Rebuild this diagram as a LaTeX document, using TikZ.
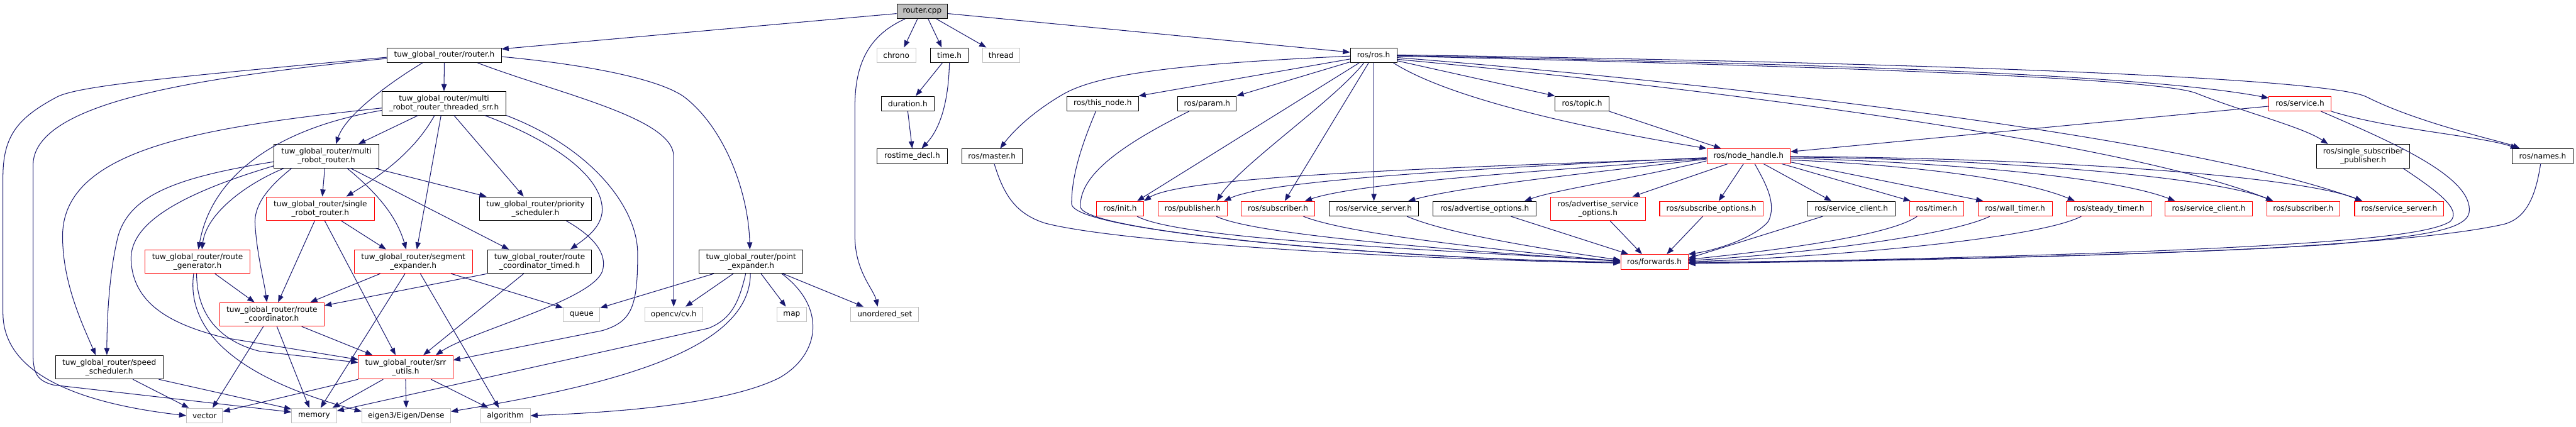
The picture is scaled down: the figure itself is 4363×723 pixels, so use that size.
\documentclass[tikz,border=0pt]{standalone}
\usepackage{fontspec}
\newfontfamily\dejavu{DejaVu Sans}
\usetikzlibrary{arrows.meta}
\definecolor{edgeblue}{HTML}{191970}
\definecolor{grayb}{HTML}{BFBFBF}
\begin{document}
\begin{tikzpicture}[x=1pt,y=-1pt,
  nd/.style={draw=black, line width=1.1pt, inner sep=0pt, align=center, text=black,
             font=\dejavu\fontsize{12.9pt}{15pt}\selectfont},
  gn/.style={nd, draw=grayb},
  rn/.style={nd, draw=red},
  wd/.style={minimum width=#1pt},
  ha/.style={minimum height=25pt},
  hb/.style={minimum height=40pt},
  e/.style={draw=edgeblue, line width=1.1pt, -{Triangle[length=12pt,width=9pt]}}]
\fill[white] (0,0) rectangle (4363,723);
\useasboundingbox (0,0) rectangle (4363,723);

% ---------------- nodes ----------------
\node[nd,fill=grayb,wd=86,ha] (cpp) at (1562,19) {router.cpp};
\node[nd,wd=193,ha] (routerh) at (752.5,93.5) {tuw\_global\_router/router.h};
\node[gn,wd=66,ha] (chrono) at (1518,93.5) {chrono};
\node[nd,wd=64,ha] (timeh) at (1608,93.5) {time.h};
\node[gn,wd=63,ha] (thread) at (1695.5,93.5) {thread};
\node[nd,wd=79,ha] (rosh) at (2326.5,93.5) {ros/ros.h};

\node[nd,wd=210,hb] (threaded) at (752,175) {tuw\_global\_router/multi\\\_robot\_router\_threaded\_srr.h};
\node[nd,wd=89,ha] (duration) at (1537.5,175.5) {duration.h};
\node[nd,wd=121,ha] (thisnode) at (1867.5,175.5) {ros/this\_node.h};
\node[nd,wd=99,ha] (param) at (2044.5,175.5) {ros/param.h};
\node[nd,wd=91,ha] (topic) at (2679.5,175.5) {ros/topic.h};
\node[rn,wd=105,ha] (service) at (3895.5,175.5) {ros/service.h};

\node[nd,wd=178,hb] (multi) at (553,264.5) {tuw\_global\_router/multi\\\_robot\_router.h};
\node[nd,wd=120,ha] (rostimedecl) at (1545,264.5) {rostime\_decl.h};
\node[nd,wd=102,ha] (master) at (1680,264.5) {ros/master.h};
\node[rn,wd=141,ha] (nodehandle) at (2961.5,264.5) {ros/node\_handle.h};
\node[nd,wd=157,hb] (singlesub) at (4002.5,264.5) {ros/single\_subscriber\\\_publisher.h};
\node[nd,wd=103,ha] (names) at (4306.5,264.5) {ros/names.h};

\node[rn,wd=183,hb] (single) at (542.5,353.5) {tuw\_global\_router/single\\\_robot\_router.h};
\node[nd,wd=190,hb] (priority) at (907,353.5) {tuw\_global\_router/priority\\\_scheduler.h};
\node[rn,wd=80,ha] (init) at (1897,353.5) {ros/init.h};
\node[rn,wd=118,ha] (publisher) at (2020,353.5) {ros/publisher.h};
\node[rn,wd=125,ha] (subscriber1) at (2164.5,353.5) {ros/subscriber.h};
\node[nd,wd=152,ha] (servserver1) at (2327,353.5) {ros/service\_server.h};
\node[nd,wd=175,ha] (advopts) at (2514.5,353.5) {ros/advertise\_options.h};
\node[rn,wd=161,hb] (advservopts) at (2706.5,353.5) {ros/advertise\_service\\\_options.h};
\node[rn,wd=175,ha] (subopts) at (2898.5,353.5) {ros/subscribe\_options.h};
\node[nd,wd=149,ha] (servclient1) at (3135.5,353.5) {ros/service\_client.h};
\node[rn,wd=92,ha] (timer) at (3280,353.5) {ros/timer.h};
\node[rn,wd=126,ha] (walltimer) at (3413,353.5) {ros/wall\_timer.h};
\node[rn,wd=144,ha] (steadytimer) at (3572,353.5) {ros/steady\_timer.h};
\node[rn,wd=148,ha] (servclient2) at (3741,353.5) {ros/service\_client.h};
\node[rn,wd=124,ha] (subscriber2) at (3901,353.5) {ros/subscriber.h};
\node[rn,wd=151,ha] (servserver2) at (4063.5,353.5) {ros/service\_server.h};

\node[rn,wd=177,hb] (routegen) at (334.5,443) {tuw\_global\_router/route\\\_generator.h};
\node[rn,wd=200,hb] (segexp) at (700,443) {tuw\_global\_router/segment\\\_expander.h};
\node[nd,wd=176,hb] (timed) at (914,443) {tuw\_global\_router/route\\\_coordinator\_timed.h};
\node[nd,wd=176,hb] (pointexp) at (1272,443) {tuw\_global\_router/point\\\_expander.h};
\node[rn,wd=114,ha] (forwards) at (2802,443.5) {ros/forwards.h};

\node[rn,wd=177,hb] (routecoord) at (460.5,532.5) {tuw\_global\_router/route\\\_coordinator.h};
\node[gn,wd=62,ha] (queue) at (985,532.5) {queue};
\node[gn,wd=98,ha] (opencv) at (1141,532.5) {opencv/cv.h};
\node[gn,wd=50,ha] (map) at (1341,532.5) {map};
\node[gn,wd=115,ha] (unordered) at (1498.5,532.5) {unordered\_set};

\node[nd,wd=182,hb] (speed) at (185,622) {tuw\_global\_router/speed\\\_scheduler.h};
\node[rn,wd=160,hb] (srrutils) at (687,622) {tuw\_global\_router/srr\\\_utils.h};

\node[gn,wd=61,ha] (vector) at (346.5,704) {vector};
\node[gn,wd=76,ha] (memory) at (532,704) {memory};
\node[gn,wd=150,ha] (eigen) at (688,704) {eigen3/Eigen/Dense};
\node[gn,wd=84,ha] (algorithm) at (856,704) {algorithm};

% ---------------- edges ----------------
% router.cpp
\draw[e] ([yshift=-4pt]cpp.west) -- ([yshift=10.5pt]routerh.east);
\draw[e] ([xshift=-8pt]cpp.south) -- ([xshift=13pt]chrono.north);
\draw[e] ([xshift=10pt]cpp.south) -- ([xshift=-13pt]timeh.north);
\draw[e] ([xshift=24pt]cpp.south) -- ([xshift=-25pt]thread.north);
\draw[e] ([yshift=-4pt]cpp.east) -- ([yshift=5pt]rosh.west);
\draw[e] ([xshift=-29pt]cpp.south) .. controls (1470,60) and (1448,110) .. (1448,180) -- (1448,400) .. controls (1448,460) and (1480,490) .. ([xshift=-12pt]unordered.north);
% time.h
\draw[e] ([xshift=-12pt]timeh.south) -- ([xshift=13.5pt]duration.north);
\draw[e] (timeh.south) .. controls (1607,150) and (1600,210) .. ([xshift=16pt]rostimedecl.north);
\draw[e] (duration.south) -- (rostimedecl.north);
% router.h
\draw[e] (routerh.south) -- (threaded.north);
\draw[e] ([xshift=-37pt]routerh.south) .. controls (660,140) and (585,195) .. ([xshift=16pt]multi.north);
\draw[e] ([yshift=-3.5pt]routerh.west) .. controls (300,130) and (130,145) .. (95,165) .. controls (30,200) and (5,230) .. (5,300) -- (5,530) .. controls (5,640) and (150,685) .. (vector.west);
\draw[e] ([yshift=-5.5pt]routerh.west) .. controls (350,130) and (56,170) .. (56,280) -- (56,600) .. controls (56,635) and (65,645) .. (90,652) -- ([yshift=6pt]memory.west);
\draw[e] ([yshift=-2.5pt]routerh.east) .. controls (1000,110) and (1120,135) .. (1160,165) .. controls (1230,220) and (1268,330) .. ([xshift=-2pt]pointexp.north);
\draw[e] ([xshift=56.5pt]routerh.south) .. controls (950,160) and (1141,200) .. (1141,265) -- (opencv.north);
% threaded
\draw[e] ([yshift=-8pt]threaded.west) .. controls (350,215) and (106,250) .. (106,400) .. controls (106,480) and (140,550) .. ([xshift=-23pt]speed.north);
\draw[e] ([yshift=-12pt]threaded.west) .. controls (480,215) and (360,290) .. ([xshift=1.5pt]routegen.north);
\draw[e] ([xshift=-44pt]threaded.south) -- ([xshift=54pt]multi.north);
\draw[e] ([xshift=-16pt]threaded.south) .. controls (700,260) and (640,300) .. ([xshift=44pt]single.north);
\draw[e] ([xshift=-5pt]threaded.south) -- ([xshift=6pt]segexp.north);
\draw[e] ([xshift=17pt]threaded.south) -- ([xshift=-20pt]priority.north);
\draw[e] ([xshift=69pt]threaded.south) .. controls (940,240) and (1020,300) .. (1020,355) .. controls (1020,385) and (990,405) .. ([xshift=52pt]timed.north);
\draw[e] (threaded.south east) .. controls (1000,250) and (1080,350) .. (1080,430) .. controls (1080,520) and (1070,545) .. (1020,560) -- ([yshift=12pt]srrutils.east);
% multi
\draw[e] ([yshift=-9.5pt]multi.west) .. controls (300,300) and (220,330) .. (200,400) .. controls (185,460) and (181,540) .. ([xshift=-4pt]speed.north);
\draw[e] ([yshift=-16.5pt]multi.west) .. controls (300,330) and (220,380) .. (222,440) .. controls (225,520) and (300,552) .. (380,572) -- ([yshift=13pt]srrutils.west);
\draw[e] ([xshift=-72pt]multi.south) .. controls (420,310) and (350,360) .. ([xshift=7.5pt]routegen.north);
\draw[e] ([xshift=-59pt]multi.south) .. controls (450,320) and (430,350) .. (432,380) .. controls (435,430) and (448,480) .. ([xshift=-8.5pt]routecoord.north);
\draw[e] ([xshift=-3pt]multi.south) -- ([xshift=3.5pt]single.north);
\draw[e] ([xshift=35pt]multi.south) .. controls (630,320) and (670,360) .. ([xshift=-12pt]segexp.north);
\draw[e] ([xshift=82pt]multi.south) -- ([xshift=-83pt]priority.north);
\draw[e] ([xshift=41pt]multi.south) -- ([xshift=-52pt]timed.north);
% single
\draw[e] ([xshift=-9.5pt]single.south) -- ([xshift=10.5pt]routecoord.north);
\draw[e] ([xshift=7.5pt]single.south) -- ([xshift=-17pt]srrutils.north);
\draw[e] ([xshift=35.5pt]single.south) -- ([xshift=-46pt]segexp.north);
% priority
\draw[e] ([xshift=52pt]priority.south) .. controls (1005,400) and (1030,430) .. (1020,460) .. controls (1000,510) and (800,560) .. ([xshift=51pt]srrutils.north);
% timed
\draw[e] (timed.south west) -- ([yshift=15pt]routecoord.east);
\draw[e] ([xshift=-27pt]timed.south) -- ([xshift=30pt]srrutils.north);
% segment expander
\draw[e] ([xshift=-56pt]segexp.south) -- ([xshift=65pt]routecoord.north);
\draw[e] ([xshift=-14pt]segexp.south) -- ([xshift=11pt]memory.north);
\draw[e] ([xshift=12pt]segexp.south) -- ([xshift=-11pt]algorithm.north);
\draw[e] ([xshift=64pt]segexp.south) -- ([yshift=-2pt]queue.north west);
% route generator
\draw[e] ([xshift=29.5pt]routegen.south) -- ([xshift=-29.5pt]routecoord.north);
\draw[e] ([xshift=-1.5pt]routegen.south) .. controls (333,540) and (380,580) .. (440,595) -- ([yshift=8pt]srrutils.west);
\draw[e] ([xshift=-6.5pt]routegen.south) .. controls (315,560) and (400,640) .. ([yshift=7pt]eigen.west);
% route coordinator
\draw[e] ([xshift=-14.5pt]routecoord.south) -- ([xshift=13.5pt]vector.north);
\draw[e] ([xshift=8.5pt]routecoord.south) -- ([xshift=-8pt]memory.north);
\draw[e] ([xshift=50.5pt]routecoord.south) -- ([xshift=-56pt]srrutils.north);
% speed scheduler
\draw[e] ([xshift=40pt]speed.south) -- ([xshift=-26.5pt]vector.north);
\draw[e] ([xshift=84pt]speed.south) -- ([yshift=-2pt]memory.north west);
% srr utils
\draw[e] (srrutils.south west) -- ([yshift=7pt]vector.east);
\draw[e] ([xshift=-38pt]srrutils.south) -- ([xshift=31pt]memory.north);
\draw[e] (srrutils.south) -- (eigen.north);
\draw[e] ([xshift=43pt]srrutils.south) -- ([xshift=-29pt]algorithm.north);
% point expander
\draw[e] ([xshift=-63pt]pointexp.south) -- ([yshift=-2pt]queue.north east);
\draw[e] ([xshift=-30pt]pointexp.south) -- ([xshift=20pt]opencv.north);
\draw[e] ([xshift=-9pt]pointexp.south) .. controls (1252,510) and (1240,540) .. (1200,556) -- ([yshift=8pt]memory.east);
\draw[e] ([xshift=-1pt]pointexp.south) .. controls (1270,590) and (1050,650) .. ([yshift=7pt]eigen.east);
\draw[e] ([xshift=17pt]pointexp.south) -- ([xshift=-10pt]map.north);
\draw[e] ([xshift=52pt]pointexp.south) .. controls (1400,520) and (1390,600) .. (1320,640) .. controls (1220,690) and (1000,700) .. (algorithm.east);
\draw[e] ([xshift=54pt]pointexp.south) -- ([xshift=-36pt]unordered.north);

% ros/ros.h
\draw[e] ([yshift=-1.5pt]rosh.west) .. controls (2000,108) and (1860,125) .. (1800,160) .. controls (1740,195) and (1710,230) .. ([xshift=14pt]master.north);
\draw[e] ([yshift=-6.5pt]rosh.west) -- (thisnode.north east);
\draw[e] ([yshift=-11.5pt]rosh.west) -- (param.north east);
\draw[e] ([xshift=-24.5pt]rosh.south) -- ([xshift=29pt]init.north);
\draw[e] ([xshift=-16.5pt]rosh.south) .. controls (2260,170) and (2100,280) .. ([xshift=41pt]publisher.north);
\draw[e] ([xshift=-8.5pt]rosh.south) -- ([xshift=11.5pt]subscriber1.north);
\draw[e] ([xshift=0.5pt]rosh.south) -- (servserver1.north);
\draw[e] ([xshift=33.5pt]rosh.south) .. controls (2460,170) and (2700,220) .. (nodehandle.north west);
\draw[e] ([yshift=-9.5pt]rosh.east) -- (topic.north west);
\draw[e] ([yshift=-0.5pt]rosh.east) .. controls (2900,105) and (3600,120) .. ([yshift=9.5pt]service.west);
\draw[e] ([yshift=-1.5pt]rosh.east) .. controls (3000,110) and (3650,130) .. (3720,158) .. controls (3800,190) and (3900,215) .. ([xshift=-59.5pt]singlesub.north);
\draw[e] ([yshift=0.5pt]rosh.east) .. controls (3200,105) and (3950,130) .. (4010,165) .. controls (4100,210) and (4240,240) .. ([xshift=-38.5pt]names.north);
\draw[e] ([yshift=-4pt]rosh.east) .. controls (2900,140) and (3700,230) .. ([xshift=-62.5pt]servserver2.north);
\draw[e] ([yshift=-7pt]rosh.east) .. controls (2900,150) and (3600,240) .. ([xshift=-51pt]subscriber2.north);
% topic, service
\draw[e] (topic.south east) -- ([xshift=-46.5pt]nodehandle.north);
\draw[e] ([yshift=-4.5pt]service.west) -- ([yshift=7.5pt]nodehandle.east);
\draw[e] (service.south east) .. controls (4050,220) and (4200,230) .. ([xshift=-42.5pt]names.north);
\draw[e] ([xshift=35.5pt]service.south) .. controls (4050,240) and (4190,300) .. (4182,360) .. controls (4176,390) and (4100,400) .. (3950,414) .. controls (3600,436) and (3100,442) .. ([yshift=-1pt]forwards.east);
\draw[e] ([xshift=67.5pt]singlesub.south) .. controls (4130,325) and (4170,355) .. (4150,375) .. controls (4120,395) and (4000,405) .. (3900,412) .. controls (3600,432) and (3100,442) .. ([yshift=-2pt]forwards.east);
\draw[e] ([xshift=-3.5pt]names.south) .. controls (4295,330) and (4280,370) .. (4240,380) .. controls (4150,400) and (4000,410) .. (3850,420) .. controls (3500,437) and (3100,443) .. ([yshift=-3pt]forwards.east);
% node_handle
\draw[e] ([xshift=10.5pt]nodehandle.south) .. controls (2990,310) and (3010,345) .. (2995,375) .. controls (2970,405) and (2900,425) .. (forwards.north east);
\draw[e] ([yshift=-3.5pt]nodehandle.west) .. controls (2400,285) and (2000,300) .. (init.north east);
\draw[e] ([yshift=-2.5pt]nodehandle.west) .. controls (2500,285) and (2150,305) .. ([xshift=53pt]publisher.north);
\draw[e] ([yshift=-4pt]nodehandle.west) .. controls (2600,290) and (2300,310) .. ([xshift=45.5pt]subscriber1.north);
\draw[e] ([yshift=-5pt]nodehandle.west) .. controls (2700,292) and (2480,315) .. ([xshift=58pt]servserver1.north);
\draw[e] ([yshift=-8pt]nodehandle.west) .. controls (2780,300) and (2640,320) .. ([xshift=67.5pt]advopts.north);
\draw[e] ([xshift=-35.5pt]nodehandle.south) -- ([xshift=58.5pt]advservopts.north);
\draw[e] ([xshift=-8.5pt]nodehandle.south) -- ([xshift=12.5pt]subopts.north);
\draw[e] ([xshift=25.5pt]nodehandle.south) -- ([xshift=-33.5pt]servclient1.north);
\draw[e] ([xshift=56.5pt]nodehandle.south) -- ([xshift=-44pt]timer.north);
\draw[e] ([yshift=-10pt]nodehandle.east) -- ([xshift=-54pt]walltimer.north);
\draw[e] ([yshift=-6.5pt]nodehandle.east) .. controls (3250,280) and (3430,305) .. ([xshift=-58pt]steadytimer.north);
\draw[e] ([yshift=-3.5pt]nodehandle.east) .. controls (3300,275) and (3580,300) .. ([xshift=-57pt]servclient2.north);
\draw[e] ([yshift=-1.5pt]nodehandle.east) .. controls (3400,270) and (3750,300) .. ([xshift=-51pt]subscriber2.north);
\draw[e] ([yshift=-0.5pt]nodehandle.east) .. controls (3500,268) and (3900,300) .. ([xshift=-62.5pt]servserver2.north);
% into forwards
\draw[e] ([xshift=4pt]master.south) .. controls (1700,330) and (1720,362) .. (1770,378) .. controls (1900,412) and (2400,440) .. ([yshift=-2pt]forwards.west);
\draw[e] ([xshift=-11.5pt]thisnode.south) .. controls (1830,250) and (1815,300) .. (1815,345) .. controls (1815,395) and (2400,440) .. ([yshift=-1pt]forwards.west);
\draw[e] ([xshift=-30.5pt]param.south) .. controls (1890,250) and (1828,300) .. (1830,350) .. controls (1832,395) and (2400,440) .. ([yshift=-0.5pt]forwards.west);
\draw[e] ([xshift=29pt]init.south) .. controls (1990,400) and (2300,418) .. ([yshift=2pt]forwards.west);
\draw[e] ([xshift=40pt]publisher.south) .. controls (2120,395) and (2400,420) .. ([yshift=1pt]forwards.west);
\draw[e] ([xshift=43pt]subscriber1.south) .. controls (2280,395) and (2500,420) .. ([yshift=0.5pt]forwards.west);
\draw[e] ([xshift=56pt]servserver1.south) .. controls (2450,395) and (2600,420) .. ([yshift=3pt]forwards.west);
\draw[e] ([xshift=44.5pt]advopts.south) -- ([xshift=-44pt]forwards.north);
\draw[e] ([xshift=20.5pt]advservopts.south) -- ([xshift=-21pt]forwards.north);
\draw[e] ([xshift=-14.5pt]subopts.south) -- ([xshift=21pt]forwards.north);
\draw[e] ([xshift=-48.5pt]servclient1.south) -- ([yshift=6pt]forwards.east);
\draw[e] ([xshift=-33pt]timer.south) .. controls (3200,400) and (3000,425) .. ([yshift=4pt]forwards.east);
\draw[e] ([xshift=-43pt]walltimer.south) .. controls (3300,400) and (3050,430) .. ([yshift=2pt]forwards.east);
\draw[e] ([xshift=-47pt]steadytimer.south) .. controls (3450,405) and (3100,435) .. ([yshift=0pt]forwards.east);
\end{tikzpicture}
\end{document}
